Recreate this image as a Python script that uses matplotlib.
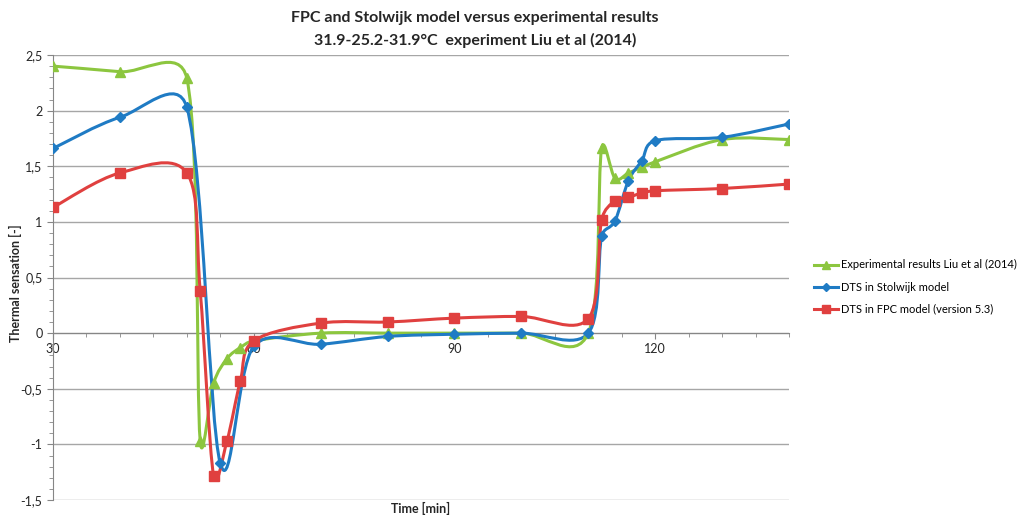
import numpy as np
import matplotlib.pyplot as plt
from matplotlib.path import Path
from matplotlib.patches import PathPatch
from matplotlib.lines import Line2D
from matplotlib.ticker import MultipleLocator, FuncFormatter

plt.rcParams['font.family'] = ['Lato', 'DejaVu Sans']

# Data
time = [30, 40, 50, 52, 54, 56, 58, 60, 70, 80, 90, 100, 110, 112, 114, 116, 118, 120, 130, 140]
experimental = [2.40, 2.35, 2.29, -0.97, -0.45, -0.23, -0.13, -0.07, 0.0, 0.0, 0.0, 0.0, 0.0,
                1.66, 1.39, 1.44, 1.49, 1.54, 1.74, 1.74]
fpc = [1.13, 1.44, 1.44, 0.38, -1.28, -0.97, -0.43, -0.07, 0.09, 0.10, 0.135, 0.15, 0.13,
       1.02, 1.19, 1.22, 1.26, 1.28, 1.30, 1.34]
time_stolwijk = [30, 40, 50, 55, 60, 70, 80, 90, 100, 110, 112, 114, 116, 118, 120, 130, 140]
stolwijk = [1.66, 1.94, 2.03, -1.17, -0.12, -0.10, -0.03, -0.01, 0.0, 0.0,
            0.87, 1.01, 1.37, 1.55, 1.73, 1.76, 1.88]

labels = ['Experimental results Liu et al (2014)', 'DTS in Stolwijk model', 'DTS in FPC model (version 5.3)']
green, blue, red = '#8cc63f', '#1f7bc4', '#e0403f'


def excel_smooth(ax, xs, ys):
    # Excel-like smoothed line: bezier segments built in screen space
    pts = ax.transData.transform(np.column_stack([xs, ys]))
    n = len(pts)
    verts = [pts[0]]
    codes = [Path.MOVETO]
    for i in range(n - 1):
        p0 = pts[i - 1] if i > 0 else pts[i]
        p1 = pts[i]
        p2 = pts[i + 1]
        p3 = pts[i + 2] if i + 2 < n else pts[i + 1]
        d02 = np.hypot(*(p2 - p0))
        d12 = np.hypot(*(p2 - p1))
        d13 = np.hypot(*(p3 - p1))
        f1 = 1 / 6 if d02 / 6 < d12 / 2 else d12 / d02 / 2
        f2 = 1 / 6 if d13 / 6 < d12 / 2 else d12 / d13 / 2
        b1 = p1 + (p2 - p0) * f1
        b2 = p2 - (p3 - p1) * f2
        verts += [b1, b2, p2]
        codes += [Path.CURVE4] * 3
    verts = ax.transData.inverted().transform(np.array(verts))
    return Path(verts, codes)


fig = plt.figure(figsize=(10.18, 5.15), dpi=100)
ax = fig.add_axes([53 / 1018, 1 - 500 / 515, (789 - 53) / 1018, (500 - 55) / 515])
ax.set_xlim(30, 140)
ax.set_ylim(-1.5, 2.5)

# grid and axes styling
ax.yaxis.set_major_locator(MultipleLocator(0.5))
ax.yaxis.set_minor_locator(MultipleLocator(0.1))
ax.xaxis.set_major_locator(MultipleLocator(30))
ax.xaxis.set_minor_locator(MultipleLocator(5))
ax.yaxis.set_major_formatter(FuncFormatter(lambda v, p: f'{v:g}'.replace('.', ',')))
ax.grid(axis='y', color='#a6a6a6', lw=1)
ax.set_axisbelow(True)
for s in ['top', 'right']:
    ax.spines[s].set_visible(False)
ax.spines['left'].set_color('#868686')
ax.spines['bottom'].set_color('#868686')
ax.spines['bottom'].set_position(('data', 0))
ax.tick_params(axis='both', which='both', colors='#868686', labelcolor='#262626', labelsize=9)
ax.tick_params(axis='both', which='major', length=4)
ax.tick_params(axis='both', which='minor', length=3)
ax.tick_params(axis='x', pad=3)

series = [(time, experimental, green, '^', 7),
          (time_stolwijk, stolwijk, blue, 'D', 5),
          (time, fpc, red, 's', 7)]
handles = []
for (xs, ys, col, mk, ms), lab in zip(series, labels):
    ax.add_patch(PathPatch(excel_smooth(ax, xs, ys), facecolor='none', edgecolor=col,
                           lw=2.2, zorder=3, capstyle='round', joinstyle='round'))
    ax.plot(xs, ys, linestyle='none', marker=mk, color=col, markersize=ms, zorder=4)
    handles.append(Line2D([], [], color=col, lw=2.2, marker=mk, markersize=ms - 1))

fig.legend(handles, labels, loc='center left', bbox_to_anchor=(814 / 1018, 1 - 287 / 515),
           frameon=False, fontsize=8, handlelength=2.2, handletextpad=0.2, labelspacing=1.0,
           borderpad=0, borderaxespad=0)

fig.text(475 / 1018, 1 - 18 / 515, 'FPC and Stolwijk model versus experimental results',
         ha='center', va='center', fontsize=11.5, fontweight='bold', color='#262626')
fig.text(475 / 1018, 1 - 40 / 515, '31.9-25.2-31.9°C  experiment Liu et al (2014)',
         ha='center', va='center', fontsize=11.5, fontweight='bold', color='#262626')
fig.text(15 / 1018, 1 - 283 / 515, 'Thermal sensation [-]', rotation=90,
         ha='center', va='center', fontsize=9, fontweight='bold', color='#262626')
fig.text(421 / 1018, 1 - 508 / 515, 'Time [min]', ha='center', va='center',
         fontsize=9, fontweight='bold', color='#262626')

fig.savefig('out.png', dpi=100)
